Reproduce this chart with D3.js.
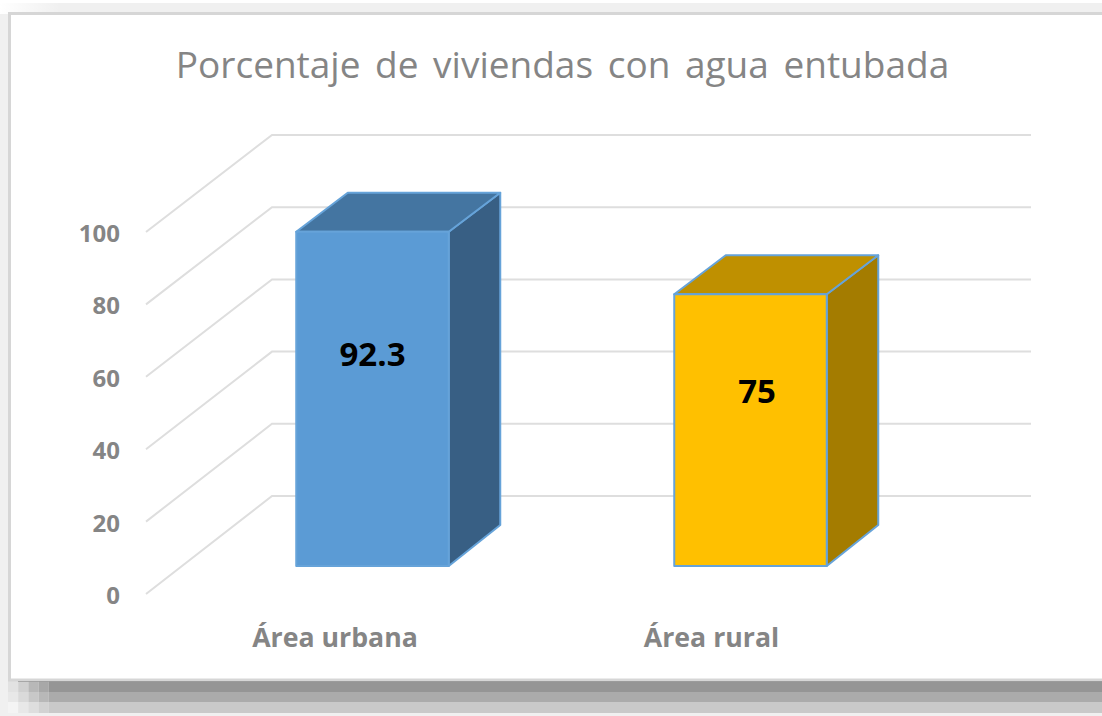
<!DOCTYPE html>
<html><head><meta charset="utf-8">
<style>html,body{margin:0;padding:0;background:#fff}svg{display:block}text{font-family:"Open Sans",Lato,sans-serif}</style>
<script src="https://cdn.jsdelivr.net/npm/d3@7/dist/d3.min.js"></script>
</head><body><svg id="c" width="1102" height="716"></svg>
<script>
const titleText = "Porcentaje de viviendas con agua entubada";
const categories = ["Área urbana", "Área rural"];
const values = [92.3, 75];
const valueLabels = ["92.3", "75"];
const labelValues = [58.7, 48.3];
const ticks = [0, 20, 40, 60, 80, 100];
const faceColors = ["#5b9bd5", "#ffc000"];
const topColors = ["#4475a1", "#bf9000"];
const sideColors = ["#385f84", "#a47c00"];

const svg = d3.select("#c");

// page and frame decoration
svg.append("rect").attr("width",1102).attr("height",716).attr("fill","#f0f0f0");
const topFade = svg.append("defs").append("linearGradient").attr("id","tf").attr("x1",0).attr("x2",1).attr("y1",0).attr("y2",0);
topFade.append("stop").attr("offset",0).attr("stop-color","#fff");
topFade.append("stop").attr("offset",1).attr("stop-color","#fff").attr("stop-opacity",0);
svg.append("rect").attr("width",60).attr("height",14).attr("fill","url(#tf)");
svg.append("rect").attr("x",0).attr("y",0).attr("width",1102).attr("height",3).attr("fill","#fff");
const bands = [
  {y:681,h:11,cols:["#e2e2e2","#d0d0d0","#b8b8b8","#a8a8a8","#959595"]},
  {y:692,h:10,cols:["#e8e8e8","#dadada","#c8c8c8","#b8b8b8","#ababab"]},
  {y:702,h:11,cols:["#f4f4f4","#e8e8e8","#dedede","#d2d2d2","#c9c9c9"]}
];
bands.forEach(b=>b.cols.forEach((c,i)=>{
  const x = 8 + i*10.2;
  svg.append("rect").attr("x",x).attr("y",b.y).attr("width",i==4?1102-x:10.2).attr("height",b.h).attr("fill",c);
}));
svg.append("rect").attr("x",9.5).attr("y",13.5).attr("width",1100).attr("height",666.5)
  .attr("fill","#fff").attr("stroke","#d6d6d6").attr("stroke-width",3);
svg.append("rect").attr("x",18).attr("y",681).attr("width",1084).attr("height",1).attr("fill","#8a8a8a").attr("opacity",.6);

// scales
const yWall = d3.scaleLinear().domain([0,100]).range([496,135]);
const yBar = d3.scaleLinear().domain([0,100]).range([566,205]);
const yLabel = d3.scaleLinear().domain([0,100]).range([594,232]);
const xBand = d3.scalePoint().domain(categories).range([372.5,750.5]);
const xCat = d3.scalePoint().domain(categories).range([335,711.5]);
const barW = 152.5, depthX = 51.5, depthY = 39, depthYBottom = 41;
const wallL = 146, wallR = 272, wallEnd = 1031;

// gridlines
const grid = svg.append("g").attr("fill","none").attr("stroke","#dedede").attr("stroke-width",2);
ticks.forEach(t=>{
  grid.append("path").attr("d",d3.line()([[wallL,yLabel(t)],[wallR,yWall(t)],[wallEnd,yWall(t)]]));
});

// axis labels
svg.append("g").selectAll("text").data(ticks).join("text")
  .attr("x",120).attr("y",d=>yLabel(d)+1.5).attr("dy","0.35em").attr("text-anchor","end")
  .attr("font-size",24).attr("font-weight",700).attr("fill","#858585").text(d=>d);
svg.append("g").selectAll("text").data(categories).join("text")
  .attr("x",d=>xCat(d)).attr("y",647).attr("text-anchor","middle")
  .attr("font-size",26.7).attr("font-weight",700).attr("fill","#858585").text(d=>d);

// bars
const bars = svg.append("g").selectAll("g").data(categories).join("g");
bars.each(function(cat,i){
  const g = d3.select(this);
  const x0 = xBand(cat)-barW/2, x1 = x0+barW;
  const yT = yBar(values[i])-1, yB = yBar(0);
  const line = d3.line();
  const add = (pts,fill)=>{
    g.append("path").attr("d",line(pts)+"Z").attr("fill",fill)
     .attr("stroke","#66a3d9").attr("stroke-width",2).attr("stroke-linejoin","round");
  };
  add([[x1,yT],[x1+depthX,yT-depthY],[x1+depthX,yB-depthYBottom],[x1,yB]],sideColors[i]);
  add([[x0,yT],[x0+depthX,yT-depthY],[x1+depthX,yT-depthY],[x1,yT]],topColors[i]);
  add([[x0,yT],[x1,yT],[x1,yB],[x0,yB]],faceColors[i]);
  g.append("text").attr("x",i==0?xBand(cat):xBand(cat)+6.5).attr("y",yBar(labelValues[i])).attr("dy","0.35em")
   .attr("text-anchor","middle").attr("font-size",33).attr("font-weight",700).attr("fill","#000").text(valueLabels[i]);
});

// title
svg.append("text").attr("x",562.5).attr("y",78).attr("text-anchor","middle")
  .attr("font-size",37).attr("fill","#858585").attr("word-spacing",5).attr("letter-spacing",0).text(titleText);
</script></body></html>
